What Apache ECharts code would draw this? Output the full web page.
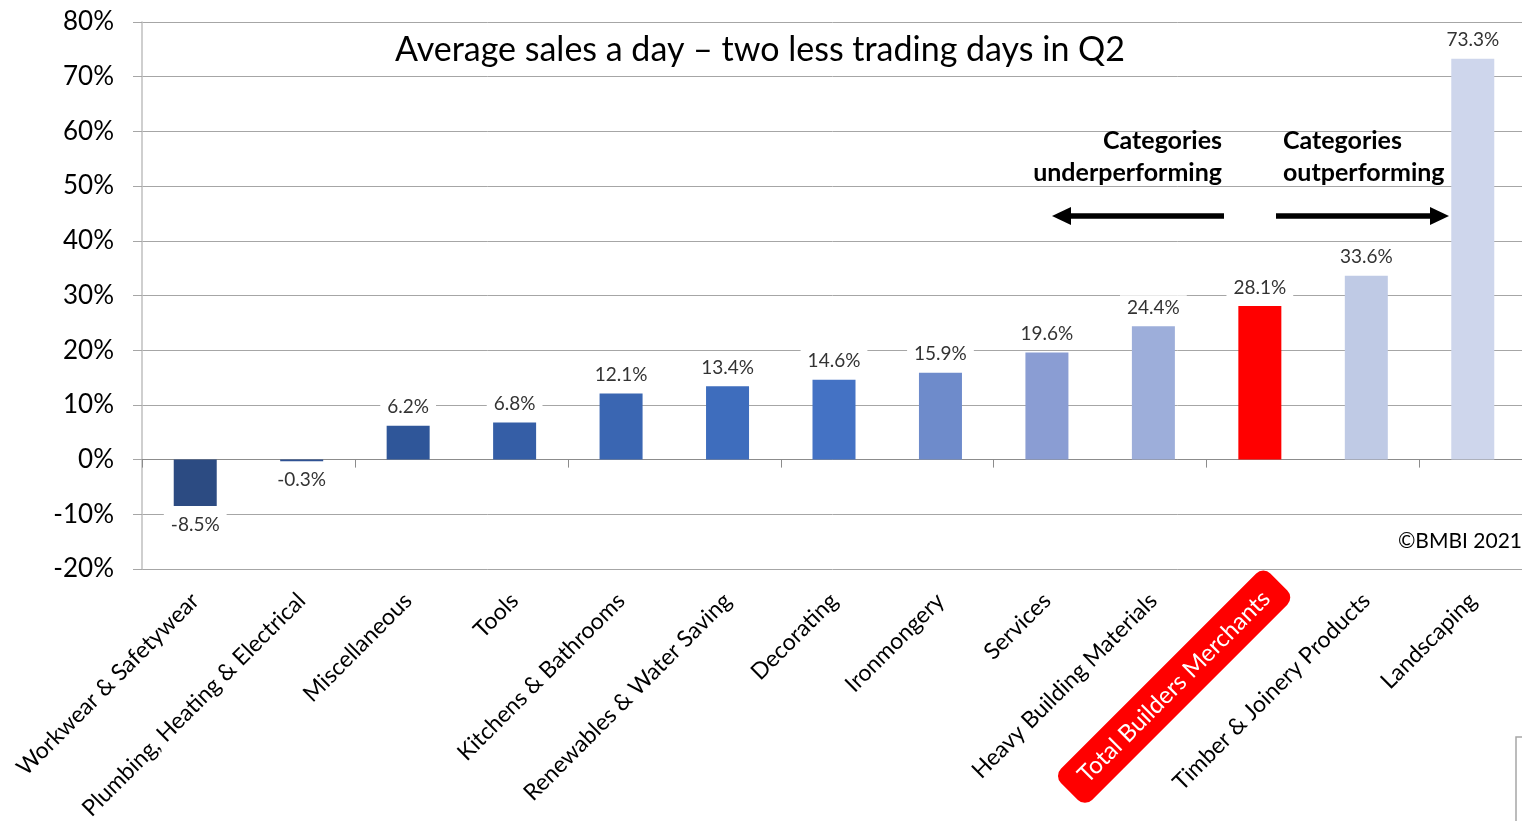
<!DOCTYPE html>
<html>
<head>
<meta charset="utf-8">
<script src="https://cdn.jsdelivr.net/npm/echarts@6/dist/echarts.min.js"></script>
<style>
  html, body { margin: 0; padding: 0; background: #fff; }
  #chart { width: 1522px; height: 821px; }
</style>
</head>
<body>
<div id="chart"></div>
<script>
const categories = [
  'Workwear & Safetywear',
  'Plumbing, Heating & Electrical',
  'Miscellaneous',
  'Tools',
  'Kitchens & Bathrooms',
  'Renewables & Water Saving',
  'Decorating',
  'Ironmongery',
  'Services',
  'Heavy Building Materials',
  'Total Builders Merchants',
  'Timber & Joinery Products',
  'Landscaping'
];
const values = [-8.5, -0.3, 6.2, 6.8, 12.1, 13.4, 14.6, 15.9, 19.6, 24.4, 28.1, 33.6, 73.3];
const yMin = -20;
const yMax = 80;
const yStep = 10;
const highlightCategory = 'Total Builders Merchants';

const titleText = 'Average sales a day \u2013 two less trading days in Q2';
const leftNote = ['Categories', 'underperforming'];
const rightNote = ['Categories', 'outperforming'];
const copyright = '\u00A9BMBI 2021';

// bar fills, dark navy -> light lavender, total in red
const barColors = [
  '#2C4B82', '#2F5294', '#2F5699', '#355EA6', '#3A66B2', '#3E6DBD', '#4472C4',
  '#6E8BCB', '#8A9DD3', '#9DAEDA', '#FF0000', '#BFCAE5', '#CED6EC'
];

const FONT = 'Lato, "Open Sans", sans-serif';
const GRID_BOTTOM = 252;

const chart = echarts.init(document.getElementById('chart'));

const seriesData = values.map((v, i) => ({
  value: v,
  itemStyle: { color: barColors[i] },
  label: { position: v < 0 ? 'bottom' : 'top' }
}));

const arrowY = 216;

const option = {
  animation: false,
  backgroundColor: '#fff',
  grid: { left: 142, right: -4, top: 22, bottom: GRID_BOTTOM, outerBoundsMode: 'none' },
  xAxis: [
    {
      type: 'category',
      data: categories,
      axisLine: { onZero: true, lineStyle: { color: '#8C8C8C', width: 1 } },
      axisTick: { show: true, length: 8, lineStyle: { color: '#8C8C8C' } },
      axisLabel: { show: false },
      splitLine: { show: false }
    },
    {
      type: 'category',
      position: 'bottom',
      data: categories,
      axisLine: { show: false, onZero: false },
      axisTick: { show: false },
      splitLine: { show: false },
      axisLabel: {
        rotate: 45,
        interval: 0,
        margin: 28,
        color: '#000',
        fontSize: 23,
        fontFamily: FONT,
        // the highlighted category gets its own red tag below
        formatter: (val) => val === highlightCategory ? '' : val
      }
    }
  ],
  yAxis: {
    type: 'value',
    min: yMin,
    max: yMax,
    interval: yStep,
    axisLine: { show: true, lineStyle: { color: '#BFBFBF', width: 1.5 } },
    axisTick: { show: true, length: 9, lineStyle: { color: '#A6A6A6' } },
    axisLabel: {
      formatter: '{value}%',
      margin: 28,
      color: '#000',
      fontSize: 26,
      fontFamily: FONT
    },
    splitLine: { show: true, lineStyle: { color: '#A6A6A6', width: 1 } }
  },
  series: [
    {
      type: 'bar',
      xAxisIndex: 0,
      data: seriesData,
      barWidth: 43,
      z: 3,
      label: {
        show: true,
        distance: 6,
        color: '#333',
        fontSize: 19,
        fontFamily: FONT,
        backgroundColor: '#fff',
        padding: [3, 7],
        formatter: (p) => p.value.toFixed(1) + '%'
      }
    }
  ],
  graphic: [
    {
      type: 'text',
      x: 760, y: 50,
      style: {
        text: titleText,
        fill: '#000',
        font: '34px ' + FONT,
        textAlign: 'center',
        textVerticalAlign: 'middle'
      },
      z: 10
    },
    {
      type: 'text',
      x: 1222, y: 157,
      style: {
        text: leftNote.join('\n'),
        fill: '#000',
        font: 'bold 25px ' + FONT,
        lineHeight: 32,
        textAlign: 'right',
        textVerticalAlign: 'middle'
      },
      z: 10
    },
    {
      type: 'text',
      x: 1283, y: 157,
      style: {
        text: rightNote.join('\n'),
        fill: '#000',
        font: 'bold 25px ' + FONT,
        lineHeight: 32,
        textAlign: 'left',
        textVerticalAlign: 'middle'
      },
      z: 10
    },
    {
      type: 'line',
      shape: { x1: 1224, y1: arrowY, x2: 1066, y2: arrowY },
      style: { stroke: '#000', lineWidth: 5.5 },
      z: 10
    },
    {
      type: 'polygon',
      shape: { points: [[1052, arrowY], [1071, arrowY - 9], [1071, arrowY + 9]] },
      style: { fill: '#000' },
      z: 10
    },
    {
      type: 'line',
      shape: { x1: 1276, y1: arrowY, x2: 1435, y2: arrowY },
      style: { stroke: '#000', lineWidth: 5.5 },
      z: 10
    },
    {
      type: 'polygon',
      shape: { points: [[1449, arrowY], [1430, arrowY - 9], [1430, arrowY + 9]] },
      style: { fill: '#000' },
      z: 10
    },
    {
      type: 'text',
      x: 1522, y: 541,
      style: {
        text: copyright,
        fill: '#000',
        font: '21px ' + FONT,
        textAlign: 'right',
        textVerticalAlign: 'middle'
      },
      z: 10
    },
    {
      type: 'polyline',
      shape: { points: [[1516, 821], [1516, 737], [1522, 737]] },
      style: { stroke: '#A6A6A6', lineWidth: 1.5, fill: null },
      z: 10
    }
  ]
};

chart.setOption(option);

// red rounded tag for the total, placed from the axis position of its category
const hx = chart.convertToPixel({ xAxisIndex: 1 }, highlightCategory);
const axisY = 821 - GRID_BOTTOM;
chart.setOption({
  graphic: [{
    id: 'highlight-tag',
    type: 'text',
    x: hx + 19,
    y: axisY + 13,
    rotation: Math.PI / 4,
    style: {
      text: highlightCategory,
      fill: '#fff',
      font: '24px ' + FONT,
      backgroundColor: '#FF0000',
      borderRadius: 10,
      padding: [10, 18],
      textAlign: 'right',
      textVerticalAlign: 'middle'
    },
    z: 10
  }]
});
</script>
</body>
</html>
